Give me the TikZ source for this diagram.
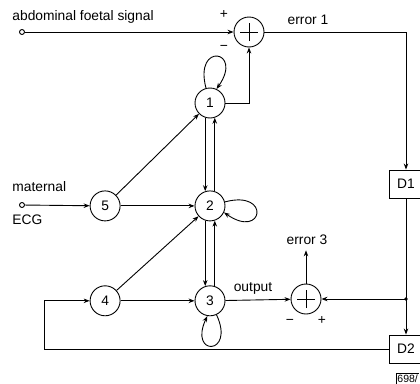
\documentclass[tikz,border=0pt]{standalone}
\usepackage{fontspec}
\setmainfont{Liberation Sans}
\usetikzlibrary{arrows.meta, positioning, calc}

\begin{document}
\begin{tikzpicture}[
    x=1pt, y=1pt,
    font=\fontsize{13.8}{15}\selectfont,
    line width=0.9pt,
    neuron/.style={circle, draw=black, minimum size=30pt, inner sep=0pt},
    sum/.style={circle, draw=black, minimum size=30pt, inner sep=0pt,
        path picture={\draw ($(path picture bounding box.center)+(-9pt,0)$) -- ++(18pt,0)
            ($(path picture bounding box.center)+(0,-9pt)$) -- ++(0,18pt);}},
    port/.style={circle, draw=black, minimum size=5pt, inner sep=0pt},
    box/.style={rectangle, draw=black, minimum width=34pt, minimum height=28pt, text centered},
    lbl/.style={inner sep=1pt},
    arrow/.style={->,>={Stealth[length=6pt, width=4.5pt]}},
]
    \useasboundingbox (0,0) rectangle (420,-383);

    \node (sum1) [sum] at (249,-32) {};
    \node (in1) [port] at (22,-32) {};
    \node (sig) [lbl, anchor=west] at (11,-17) {abdominal foetal signal};
    \node (p1) [lbl] at (224,-15) {+};
    \node (m1) [lbl] at (224,-48) {−};
    \node (err1) [lbl] at (308,-20) {error 1};

    \node (n1) [neuron] at (210,-103) {1};
    \node (n2) [neuron, below=72pt of n1] {2};
    \node (n3) [neuron, below=64pt of n2] {3};
    \node (n5) [neuron, left=74pt of n2] {5};
    \node (n4) [neuron, left=74pt of n3] {4};

    \node (in2) [port] at (22,-205) {};
    \node (mat) [lbl, anchor=west] at (11,-187) {maternal};
    \node (ecg) [lbl, anchor=west] at (11,-220) {ECG};

    \node (sum2) [sum] at (306,-299) {};
    \node (m2) [lbl] at (290,-322) {−};
    \node (p2) [lbl] at (322,-321) {+};
    \node (out) [lbl] at (253,-288) {output};
    \node (err3) [lbl, inner sep=5pt] at (307,-240) {error 3};

    \node (d1) [box] at (406,-184) {D1};
    \node (d2) [box] at (406,-349) {D2};
    \coordinate (jn) at (406,-299);
    \coordinate (fb) at (44,-349);
    \node (fig) [lbl, anchor=north west, font=\fontsize{10.5}{11}\selectfont] at (396,-373) {698/};
    \draw (fig.south west) |- (fig.north east);

    \draw [arrow] (in1) -- (sum1);
    \draw [arrow] (sum1.east) -| (d1.north);
    \draw (d1.south) -- (jn);
    \draw [arrow] (jn) -- (d2.north);
    \draw [arrow] (jn) -- (sum2.east);
    \fill (jn) circle (1.8pt);
    \draw [arrow] (sum2.north) -- (sum2.north |- err3.south);
    \draw [arrow] (n3) -- (sum2);
    \draw [arrow] (d2.west) -- (fb) |- (n4.west);
    \draw [arrow] (n1.east) -| (sum1.south);

    \draw [arrow] (in2) -- (n5);
    \draw [arrow] (n5) -- (n1);
    \draw [arrow] (n5) -- (n2);
    \draw [arrow] (n4) -- (n2);
    \draw [arrow] (n4) -- (n3);

    \draw [arrow] (n1.252) -- (n2.108);
    \draw [arrow] (n2.72) -- (n1.288);
    \draw [arrow] (n2.252) -- (n3.108);
    \draw [arrow] (n3.72) -- (n2.288);

    \draw [arrow] (n1.105) .. controls +(105:48) and +(55:48) .. (n1.65);
    \draw [arrow] (n2.15) .. controls +(15:48) and +(-35:48) .. (n2.-25);
    \draw [arrow] (n3.-65) .. controls +(-65:45) and +(-115:45) .. (n3.-100);
\end{tikzpicture}
\end{document}
